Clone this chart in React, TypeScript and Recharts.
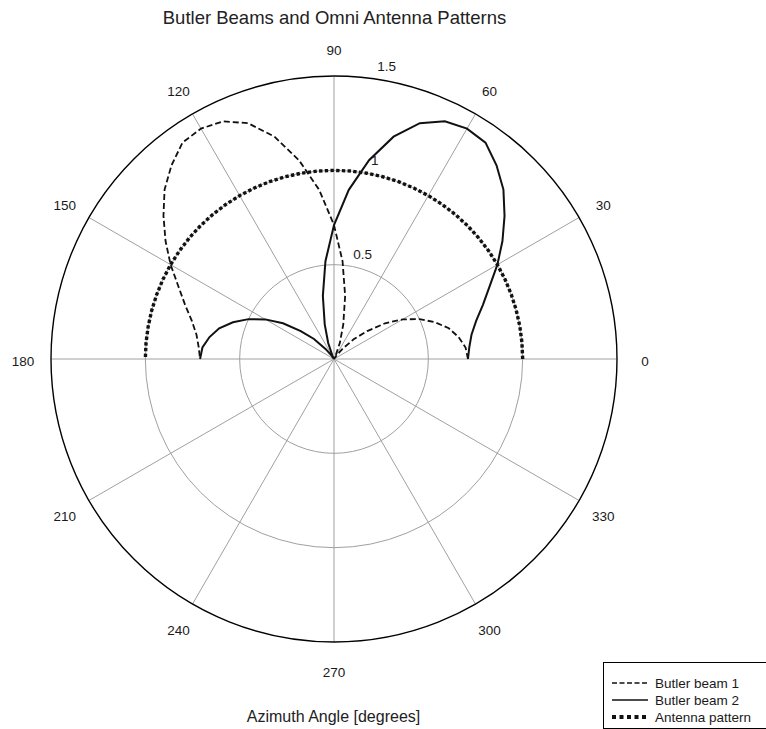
import { RadarChart, Radar, PolarGrid, PolarAngleAxis, PolarRadiusAxis, Legend } from "recharts"

// azimuth samples (degrees) for the upper half-plane
const ANGLES = [
  0, 5, 10, 15, 20, 25, 30, 35, 40, 45, 50, 55, 60, 65, 70, 75, 80, 85, 90,
  95, 100, 105, 110, 115, 120, 125, 130, 135, 140, 145, 150, 155, 160, 165, 170, 175, 180,
]

const BUTLER_BEAM_1 = [
  0.71, 0.70, 0.67, 0.63, 0.57, 0.50, 0.42, 0.33, 0.23, 0.15, 0.07, 0.02, 0.0, 0.02, 0.09, 0.19, 0.34, 0.52, 0.71,
  0.90, 1.07, 1.22, 1.33, 1.39, 1.41, 1.40, 1.34, 1.27, 1.18, 1.09, 1.0, 0.91, 0.84, 0.78, 0.74, 0.72, 0.71,
]

const BUTLER_BEAM_2 = [
  0.71, 0.72, 0.74, 0.78, 0.84, 0.91, 1.0, 1.09, 1.18, 1.27, 1.34, 1.40, 1.41, 1.39, 1.33, 1.22, 1.07, 0.90, 0.71,
  0.52, 0.34, 0.19, 0.09, 0.02, 0.0, 0.02, 0.07, 0.15, 0.23, 0.33, 0.42, 0.50, 0.57, 0.63, 0.67, 0.70, 0.71,
]

const ANTENNA_PATTERN = [
  1, 1, 1, 1, 1, 1, 1, 1, 1, 1, 1, 1, 1, 1, 1, 1, 1, 1, 1,
  1, 1, 1, 1, 1, 1, 1, 1, 1, 1, 1, 1, 1, 1, 1, 1, 1, 1,
]

const ANGLE_TICKS = [0, 30, 60, 90, 120, 150, 180, 210, 240, 270, 300, 330]
const RADIUS_TICKS = [0.5, 1, 1.5]
const RADIUS_SHOWN = 1.5 // outer ring of the plot
const RADIUS_DOMAIN = 2 // recharts rounds the radius axis up to 2, so use it explicitly

const SERIES = [
  { key: "beam1", name: "Butler beam 1", width: 1.8, dash: "6 3" },
  { key: "beam2", name: "Butler beam 2", width: 2, dash: undefined },
  { key: "omni", name: "Antenna pattern", width: 3.4, dash: "3.4 2.3" },
]

const data = ANGLES.map((angle, i) => ({
  angle,
  beam1: BUTLER_BEAM_1[i],
  beam2: BUTLER_BEAM_2[i],
  omni: ANTENNA_PATTERN[i],
}))

const FONT = "'Liberation Sans', Arial, Helvetica, sans-serif"
const CX = 334
const CY = 359
const RING_R = 283 // pixel radius of the 1.5 ring
const AXIS_R = (RING_R * RADIUS_DOMAIN) / RADIUS_SHOWN
const LABEL_R = 311
const INK = "#1a1a1a"
const px = (v: number) => (v / RADIUS_DOMAIN) * AXIS_R

function AngleTick(props: any) {
  const v = props.payload.value
  const a = (v * Math.PI) / 180
  return (
    <text
      x={CX + LABEL_R * Math.cos(a)}
      y={CY - LABEL_R * Math.sin(a) + 2}
      textAnchor="middle"
      dominantBaseline="central"
      fontSize={13.5}
      fill={INK}
    >
      {v}
    </text>
  )
}

function RadiusTick(props: any) {
  const v = props.payload.value
  if (!v || v > RADIUS_SHOWN) return <g />
  const r = px(v)
  return (
    <text
      x={CX + 16.5 + 0.128 * r}
      y={CY - r - 10}
      textAnchor="middle"
      dominantBaseline="central"
      fontSize={13.5}
      fill={INK}
    >
      {v}
    </text>
  )
}

// the patterns only cover 0-180 deg, so draw them as open curves
function OpenCurve(props: any) {
  const pts = props.points || []
  const d = pts.map((p: any, i: number) => `${i ? "L" : "M"}${p.x},${p.y}`).join("")
  return (
    <path
      d={d}
      fill="none"
      stroke={props.stroke}
      strokeWidth={props.strokeWidth}
      strokeDasharray={props.strokeDasharray}
    />
  )
}

function LegendBox() {
  return (
    <svg width={170} height={67} style={{ display: "block" }}>
      <rect x={0.5} y={0.5} width={180} height={66} fill="#fff" stroke="#000" />
      {SERIES.map((s, i) => {
        const y = 21 + i * 17
        return (
          <g key={s.key}>
            <line
              x1={9}
              x2={45}
              y1={y}
              y2={y}
              stroke="#111"
              strokeWidth={s.key === "omni" ? 4 : 1.6}
              strokeDasharray={s.key === "omni" ? "4 3.5" : s.dash ? "5 2.5" : undefined}
            />
            <text x={52} y={y} dominantBaseline="central" fontSize={13.5} fill={INK}>
              {s.name}
            </text>
          </g>
        )
      })}
    </svg>
  )
}

export default function App() {
  return (
    <div
      style={{
        position: "absolute",
        left: 0,
        top: 0,
        width: 766,
        height: 729,
        overflow: "hidden",
        background: "#fff",
        fontFamily: FONT,
      }}
    >
      <RadarChart
        width={766}
        height={729}
        cx={CX}
        cy={CY}
        outerRadius={AXIS_R}
        startAngle={0}
        endAngle={360}
        margin={{ top: 0, right: 0, bottom: 0, left: 0 }}
        data={data}
      >
        <PolarGrid
          gridType="circle"
          stroke="#a0a0a0"
          strokeWidth={1}
          outerRadius={RING_R}
          polarAngles={ANGLE_TICKS}
          polarRadius={[px(0.5), px(1)]}
        />
        {/* white band hides spoke ends past the 1.5 ring */}
        <PolarGrid
          gridType="circle"
          radialLines={false}
          stroke="#fff"
          strokeWidth={AXIS_R - RING_R + 2}
          polarRadius={[(AXIS_R + RING_R) / 2 + 0.5]}
        />
        <PolarGrid
          gridType="circle"
          radialLines={false}
          stroke="#000"
          strokeWidth={1.4}
          polarRadius={[px(RADIUS_SHOWN)]}
        />
        <PolarAngleAxis
          dataKey="angle"
          type="number"
          domain={[0, 360]}
          ticks={ANGLE_TICKS}
          axisLine={false}
          tickLine={false}
          tick={AngleTick}
        />
        <PolarRadiusAxis
          type="number"
          domain={[0, RADIUS_DOMAIN]}
          allowDataOverflow
          ticks={RADIUS_TICKS}
          angle={90}
          axisLine={false}
          tickLine={false}
          tick={RadiusTick}
        />
        {SERIES.map((s) => (
          <Radar
            key={s.key}
            dataKey={s.key}
            name={s.name}
            stroke="#111"
            strokeWidth={s.width}
            strokeDasharray={s.dash}
            fill="none"
            dot={false}
            shape={OpenCurve}
            isAnimationActive={false}
          />
        ))}
        <Legend
          content={LegendBox}
          wrapperStyle={{ position: "absolute", left: 603, top: 662, width: 170, height: 67, bottom: "auto" }}
        />
      </RadarChart>
      <div
        style={{
          position: "absolute",
          left: 0,
          top: 8,
          width: 669,
          textAlign: "center",
          fontSize: 18.5,
          lineHeight: "20px",
          color: "#222",
        }}
      >
        Butler Beams and Omni Antenna Patterns
      </div>
      <div
        style={{
          position: "absolute",
          left: 0,
          top: 707,
          width: 667,
          textAlign: "center",
          fontSize: 16,
          lineHeight: "20px",
          color: "#222",
        }}
      >
        Azimuth Angle [degrees]
      </div>
    </div>
  )
}
